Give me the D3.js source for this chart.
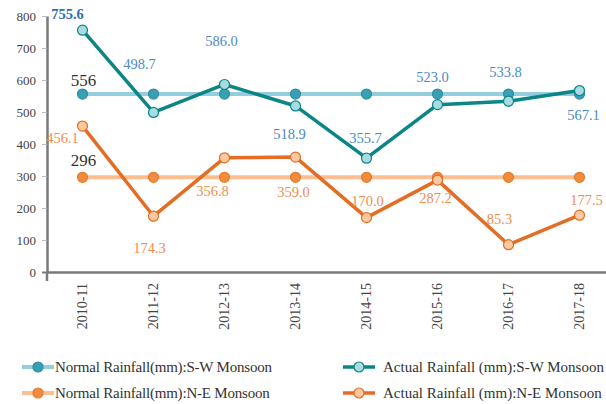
<!DOCTYPE html>
<html>
<head>
<meta charset="utf-8">
<script src="https://cdn.jsdelivr.net/npm/d3@7/dist/d3.min.js"></script>
<style>
  html, body { margin: 0; padding: 0; background: #fff; }
  svg text { font-family: "Liberation Serif", "Times New Roman", "DejaVu Serif", serif; }
  .axis text { fill: #444; font-size: 13px; }
</style>
</head>
<body>
<svg id="chart" width="606" height="404"></svg>
<script>
const years = ['2010-11', '2011-12', '2012-13', '2013-14', '2014-15', '2015-16', '2016-17', '2017-18'];
const normalSW = [556, 556, 556, 556, 556, 556, 556, 556];
const actualSW = [755.6, 498.7, 586.0, 518.9, 355.7, 523.0, 533.8, 567.1];
const normalNE = [296, 296, 296, 296, 296, 296, 296, 296];
const actualNE = [456.1, 174.3, 356.8, 359.0, 170.0, 287.2, 85.3, 177.5];
const yTicks = [0, 100, 200, 300, 400, 500, 600, 700, 800];

// label nudges (px) relative to each point, picked to match the original
const swLabelOffsets = [[-15, -11], [-14, -43], [-3, -38], [-6, 33], [-1, -15], [-5, -23], [-3, -24], [4, 29]];
const neLabelOffsets = [[-20, 17], [-4, 37], [-12, 38], [-2, 40], [1, -12], [-2, 23], [-9, -21], [7, -10]];

const svg = d3.select('#chart');
const margin = {left: 47, top: 16, bottom: 272};

const x = d3.scaleBand().domain(years).range([margin.left, margin.left + 8 * 71]);
const y = d3.scaleLinear().domain([0, 800]).range([margin.bottom, margin.top]);
const cx = d => x(d) + x.bandwidth() / 2;

// y axis
const yAxis = svg.append('g')
  .attr('class', 'axis')
  .attr('transform', 'translate(' + margin.left + ',0)')
  .call(d3.axisLeft(y).tickValues(yTicks).tickSize(5).tickSizeOuter(0).tickPadding(6));
yAxis.select('.domain').attr('stroke', '#7a7a7a').attr('stroke-width', 2.5);
yAxis.selectAll('.tick line').attr('stroke', '#bbb');
yAxis.selectAll('.tick').filter(d => d === 0).select('line').attr('stroke', '#7a7a7a').attr('stroke-width', 2);
svg.append('line')
  .attr('x1', margin.left).attr('x2', margin.left)
  .attr('y1', y(0)).attr('y2', y(0) + 9)
  .attr('stroke', '#7a7a7a').attr('stroke-width', 2.5);

// x axis
const xAxis = svg.append('g')
  .attr('class', 'axis')
  .attr('transform', 'translate(0,' + y(0) + ')')
  .call(d3.axisBottom(x).tickSize(0).tickSizeOuter(0));
xAxis.select('.domain').attr('stroke', '#7a7a7a').attr('stroke-width', 2.5);
xAxis.selectAll('.tick text')
  .attr('transform', 'rotate(-90)')
  .attr('text-anchor', 'end')
  .attr('x', -11)
  .attr('y', 0)
  .attr('dy', '0.35em')
  .style('font-size', '14px')
  .attr('fill', '#444');

const series = [
  {name: 'Normal Rainfall(mm):S-W Monsoon', values: normalSW, line: '#94cede', fill: '#3a9fb4', stroke: '#2b8ea2', width: 4},
  {name: 'Actual Rainfall (mm):S-W Monsoon', values: actualSW, line: '#0b8585', fill: '#a8dce1', stroke: '#0b8585', width: 3.5},
  {name: 'Normal Rainfall(mm):N-E Monsoon', values: normalNE, line: '#fbbe90', fill: '#f28b3b', stroke: '#e57b2c', width: 4},
  {name: 'Actual Rainfall (mm):N-E Monsoon', values: actualNE, line: '#e46c23', fill: '#fdc9a2', stroke: '#e46c23', width: 3.5}
];

const line = d3.line().x(d => cx(d.year)).y(d => y(d.value));

series.forEach(s => {
  const pts = years.map((yr, i) => ({year: yr, value: s.values[i]}));
  const g = svg.append('g');
  g.append('path')
    .datum(pts)
    .attr('fill', 'none')
    .attr('stroke', s.line)
    .attr('stroke-width', s.width)
    .attr('stroke-linejoin', 'round')
    .attr('d', line);
  g.selectAll('circle')
    .data(pts)
    .join('circle')
    .attr('cx', d => cx(d.year))
    .attr('cy', d => y(d.value))
    .attr('r', 5)
    .attr('fill', s.fill)
    .attr('stroke', s.stroke)
    .attr('stroke-width', 1.2);
});

// data labels
svg.append('g').selectAll('text')
  .data(actualSW)
  .join('text')
  .attr('x', (d, i) => cx(years[i]) + swLabelOffsets[i][0])
  .attr('y', (d, i) => y(d) + swLabelOffsets[i][1])
  .attr('text-anchor', 'middle')
  .attr('fill', (d, i) => i === 0 ? '#2b6fb6' : '#4a8acb')
  .style('font-size', '14.5px')
  .style('font-weight', (d, i) => i === 0 ? 'bold' : 'normal')
  .text(d => d.toFixed(1));

svg.append('g').selectAll('text')
  .data(actualNE)
  .join('text')
  .attr('x', (d, i) => cx(years[i]) + neLabelOffsets[i][0])
  .attr('y', (d, i) => y(d) + neLabelOffsets[i][1])
  .attr('text-anchor', 'middle')
  .attr('fill', '#f08d50')
  .style('font-size', '14.5px')
  .text(d => d.toFixed(1));

[[normalSW, -8], [normalNE, -11]].forEach(([vals, dy]) => {
  svg.append('text')
    .attr('x', cx(years[0]) + 1)
    .attr('y', y(vals[0]) + dy)
    .attr('text-anchor', 'middle')
    .attr('fill', '#333')
    .style('font-size', '17px')
    .text(vals[0]);
});

// legend
const legendPos = [[22, 367], [343, 367], [22, 393], [343, 393]];
series.forEach((s, k) => {
  const [lx, ly] = legendPos[k];
  const g = svg.append('g').attr('transform', 'translate(' + lx + ',' + ly + ')');
  g.append('line')
    .attr('x1', 0).attr('x2', 32)
    .attr('stroke', s.line).attr('stroke-width', s.width);
  g.append('circle')
    .attr('cx', 16).attr('r', 5)
    .attr('fill', s.fill).attr('stroke', s.stroke).attr('stroke-width', 1.2);
  g.append('text')
    .attr('x', k % 2 === 0 ? 33 : 40)
    .attr('dy', '0.35em')
    .attr('fill', '#333')
    .style('font-size', '15px')
    .style('letter-spacing', k % 2 === 0 ? '-0.2px' : '0px')
    .text(s.name);
});
</script>
</body>
</html>
